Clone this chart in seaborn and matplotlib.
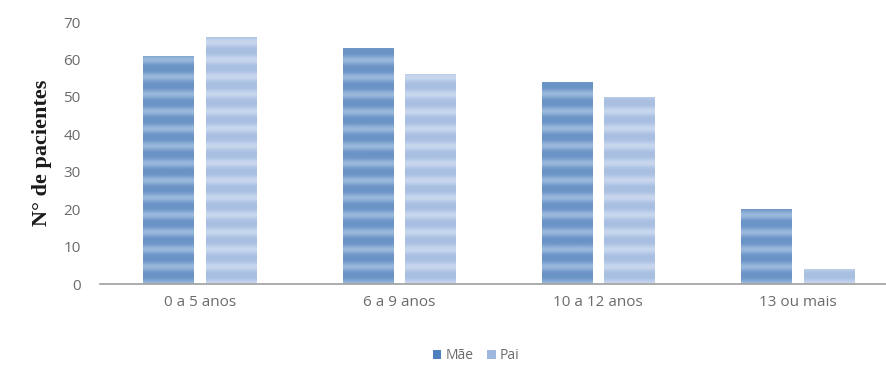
import matplotlib
matplotlib.use("Agg")
import matplotlib.pyplot as plt
import seaborn as sns
import pandas as pd
import numpy as np
from matplotlib.patches import Patch
from matplotlib.colors import LinearSegmentedColormap

categories = ["0 a 5 anos", "6 a 9 anos", "10 a 12 anos", "13 ou mais"]
mae = [61, 63, 54, 20]
pai = [66, 56, 50, 4]
series_names = ["Mãe", "Pai"]

df = pd.DataFrame({
    "faixa": categories * 2,
    "valor": mae + pai,
    "grupo": [series_names[0]] * len(categories) + [series_names[1]] * len(categories),
})

sns.set_theme(style="white")
plt.rcParams["font.family"] = ["Open Sans", "DejaVu Sans"]

fig = plt.figure(figsize=(8.87, 3.67), dpi=100)
ax = fig.add_axes([0.113, 0.226, 0.887, 0.714])

palette = {"Mãe": "#6a93c6", "Pai": "#a9bfe2"}
band_light = {"Mãe": "#9ab8dc", "Pai": "#c8d7ee"}
sns.barplot(data=df, x="faixa", y="valor", hue="grupo", order=categories,
            hue_order=series_names, palette=palette, width=0.63, gap=0.2,
            saturation=1, ax=ax, legend=False)

ymax = 70
ax.set_ylim(0, ymax)

# soft horizontal banding, clipped to each bar
yy = np.linspace(0, ymax, 700)
bands = (0.5 + 0.5 * np.cos(2 * np.pi * yy / 4.6)) ** 1.6
tex = bands[:, None]
for patch, name in zip(list(ax.patches), [series_names[0]] * 4 + [series_names[1]] * 4):
    cmap = LinearSegmentedColormap.from_list(name, [palette[name], band_light[name]])
    x0 = patch.get_x()
    x1 = x0 + patch.get_width()
    im = ax.imshow(tex, cmap=cmap, vmin=0, vmax=1, aspect="auto", origin="lower",
                   extent=(x0, x1, 0, ymax), interpolation="bilinear", zorder=patch.get_zorder() + 0.1)
    im.set_clip_path(patch)

ax.set_xlim(-0.5, 3.45)
ax.set_ylim(0, ymax)
ax.set_yticks(range(0, 71, 10))
ax.tick_params(axis="both", length=0, colors="#6b6b6b", labelsize=11)
ax.tick_params(axis="x", pad=8)
ax.tick_params(axis="y", pad=14)
for s in ["top", "right", "left"]:
    ax.spines[s].set_visible(False)
ax.spines["bottom"].set_color("#a6a6a6")
ax.spines["bottom"].set_linewidth(1.3)
ax.spines["bottom"].set_zorder(5)
ax.set_xlabel("")
ax.set_ylabel("N° de pacientes", family="Liberation Serif", fontweight="bold",
              fontsize=16, color="#1a1a1a", labelpad=8)

handles = [Patch(facecolor=c, edgecolor="none") for c in ["#4f7fbc", "#9fb7de"]]
fig.legend(handles, series_names, loc="center", bbox_to_anchor=(0.537, 0.03),
           ncol=2, frameon=False, fontsize=10, handlelength=0.6, handleheight=0.6,
           handletextpad=0.3, columnspacing=1.0, labelcolor="#6b6b6b")

fig.savefig("out.png", dpi=100)
